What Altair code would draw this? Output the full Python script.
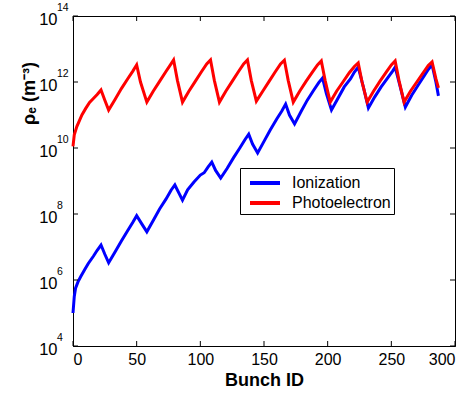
import altair as alt
import pandas as pd

# Bunch IDs and log10 of electron density
ion_bunch = [0, 1, 2, 4, 6, 9, 12, 16, 19, 22, 25, 28,
             33, 38, 43, 47, 50, 54, 58,
             63, 68, 73, 77, 80, 83, 86,
             90, 95, 100, 103, 106, 109, 112, 116,
             121, 126, 131, 135, 138, 141, 145,
             150, 155, 160, 164, 167, 170, 174,
             179, 184, 189, 193, 196, 199, 203,
             208, 213, 218, 221, 224, 228, 232,
             237, 242, 247, 251, 253, 257, 261,
             266, 271, 276, 279, 282, 285, 287]
ion_log = [5.0, 5.5, 5.75, 5.95, 6.1, 6.3, 6.5, 6.72, 6.9, 7.06, 6.78, 6.52,
           6.85, 7.18, 7.5, 7.75, 7.95, 7.7, 7.46,
           7.8, 8.15, 8.45, 8.72, 8.88, 8.65, 8.42,
           8.73, 8.97, 9.18, 9.25, 9.42, 9.57, 9.32, 9.09,
           9.38, 9.7, 10.0, 10.25, 10.42, 10.12, 9.85,
           10.2, 10.55, 10.88, 11.12, 11.33, 11.0, 10.73,
           11.1, 11.45, 11.75, 11.98, 12.12, 11.65, 11.15,
           11.5, 11.85, 12.1, 12.3, 12.45, 11.85, 11.21,
           11.55, 11.85, 12.12, 12.33, 12.45, 11.85, 11.24,
           11.6, 11.9, 12.2, 12.38, 12.52, 12.0, 11.58]

pho_bunch = [0, 1, 3, 7, 10, 13, 16, 19, 22, 25, 28,
             33, 38, 43, 47, 50, 53, 58,
             63, 68, 73, 77, 79, 82, 86,
             91, 96, 101, 105, 108, 111, 115,
             120, 125, 130, 134, 137, 140, 144,
             149, 154, 159, 163, 166, 169, 173,
             178, 183, 188, 192, 195, 198, 202,
             207, 212, 217, 221, 224, 227, 231,
             236, 241, 246, 250, 253, 256, 260,
             265, 270, 275, 279, 282, 285, 287]
pho_log = [10.05, 10.4, 10.65, 11.0, 11.2, 11.38, 11.5, 11.62, 11.76, 11.45, 11.15,
           11.47, 11.8, 12.1, 12.33, 12.52, 12.0, 11.39,
           11.72, 12.02, 12.32, 12.55, 12.67, 12.05, 11.39,
           11.72, 12.02, 12.32, 12.55, 12.67, 12.05, 11.39,
           11.72, 12.02, 12.32, 12.55, 12.67, 12.05, 11.42,
           11.72, 12.02, 12.32, 12.55, 12.66, 12.05, 11.39,
           11.72, 12.02, 12.3, 12.52, 12.64, 12.05, 11.39,
           11.72, 12.0, 12.28, 12.47, 12.58, 12.0, 11.39,
           11.72, 12.02, 12.3, 12.52, 12.64, 12.05, 11.39,
           11.72, 12.0, 12.28, 12.5, 12.61, 12.1, 11.82]

series = ["Ionization", "Photoelectron"]
colors = ["#0000ff", "#ff0000"]
x_ticks = [0, 50, 100, 150, 200, 250, 300]
y_ticks = [1e4, 1e6, 1e8, 1e10, 1e12, 1e14]
y_exps = ["4", "6", "8", "10", "12", "14"]

rows = []
for b, v in zip(ion_bunch, ion_log):
    rows.append({"bunch": b, "rho": 10 ** v, "series": series[0]})
for b, v in zip(pho_bunch, pho_log):
    rows.append({"bunch": b, "rho": 10 ** v, "series": series[1]})
df = pd.DataFrame(rows)

W, H = 382, 330
FONT = "Liberation Sans"

xscale = alt.Scale(domain=[0, 300], nice=False)
yscale = alt.Scale(type="log", domain=[1e4, 1e14], nice=False)

lines = alt.Chart(df).mark_line(strokeWidth=3).encode(
    x=alt.X("bunch:Q", scale=xscale,
            axis=alt.Axis(values=x_ticks, ticks=False, grid=False, title="Bunch ID",
                          labelFontSize=16, labelPadding=5, titleFontSize=18,
                          titleFontWeight="bold", titlePadding=4, domainColor="black",
                          labelColor="black", titleColor="black", labelFont=FONT,
                          titleFont=FONT)),
    y=alt.Y("rho:Q", scale=yscale,
            axis=alt.Axis(values=y_ticks, ticks=False, grid=False, title="ρₑ (m⁻³)",
                          labelExpr="'10'", labelFontSize=16.5, labelPadding=16,
                          labelOffset=3,
                          titleFontSize=18, titleFontWeight="bold", titleAngle=270,
                          titleX=-44, titleY=77, titleAlign="center",
                          titleBaseline="middle", domainColor="black",
                          labelColor="black", titleColor="black", labelFont=FONT,
                          titleFont=FONT)),
    color=alt.Color("series:N", scale=alt.Scale(domain=series, range=colors),
                    title=None,
                    legend=alt.Legend(orient="none", legendX=167, legendY=152,
                                      symbolType="M-1.5,0H1.5", symbolSize=400,
                                      symbolStrokeWidth=4, symbolOffset=10,
                                      labelFontSize=16, labelFont=FONT,
                                      labelColor="black", labelOffset=15,
                                      rowPadding=-4, padding=3,
                                      strokeColor="black", fillColor="white",
                                      cornerRadius=0)),
    order=alt.Order("bunch:Q"),
)

ylab = pd.DataFrame({"y": y_ticks, "e": y_exps})
exps = alt.Chart(ylab).mark_text(align="left", baseline="alphabetic", dy=-5,
                                  fontSize=10.5, font=FONT, color="black").encode(
    y=alt.Y("y:Q", scale=yscale), x=alt.value(-16), text="e:N")

xt = pd.DataFrame({"x": x_ticks})
yt = pd.DataFrame({"y": y_ticks})
tb = alt.Chart(xt).mark_rule(color="black", strokeWidth=1).encode(
    x=alt.X("x:Q", scale=xscale), y=alt.value(H), y2=alt.value(H - 5))
tt = alt.Chart(xt).mark_rule(color="black", strokeWidth=1).encode(
    x=alt.X("x:Q", scale=xscale), y=alt.value(0), y2=alt.value(5))
tl = alt.Chart(yt).mark_rule(color="black", strokeWidth=1).encode(
    y=alt.Y("y:Q", scale=yscale), x=alt.value(0), x2=alt.value(5))
tr = alt.Chart(yt).mark_rule(color="black", strokeWidth=1).encode(
    y=alt.Y("y:Q", scale=yscale), x=alt.value(W), x2=alt.value(W - 5))

chart = alt.layer(lines, exps, tb, tt, tl, tr).properties(
    width=W, height=H,
    autosize=alt.AutoSizeParams(type="none"),
    padding={"left": 73, "top": 16, "right": 19, "bottom": 47},
    background="white",
).configure_view(stroke="black", strokeWidth=1)

chart.save("out.html", embed_options={"renderer": "svg", "actions": False})
